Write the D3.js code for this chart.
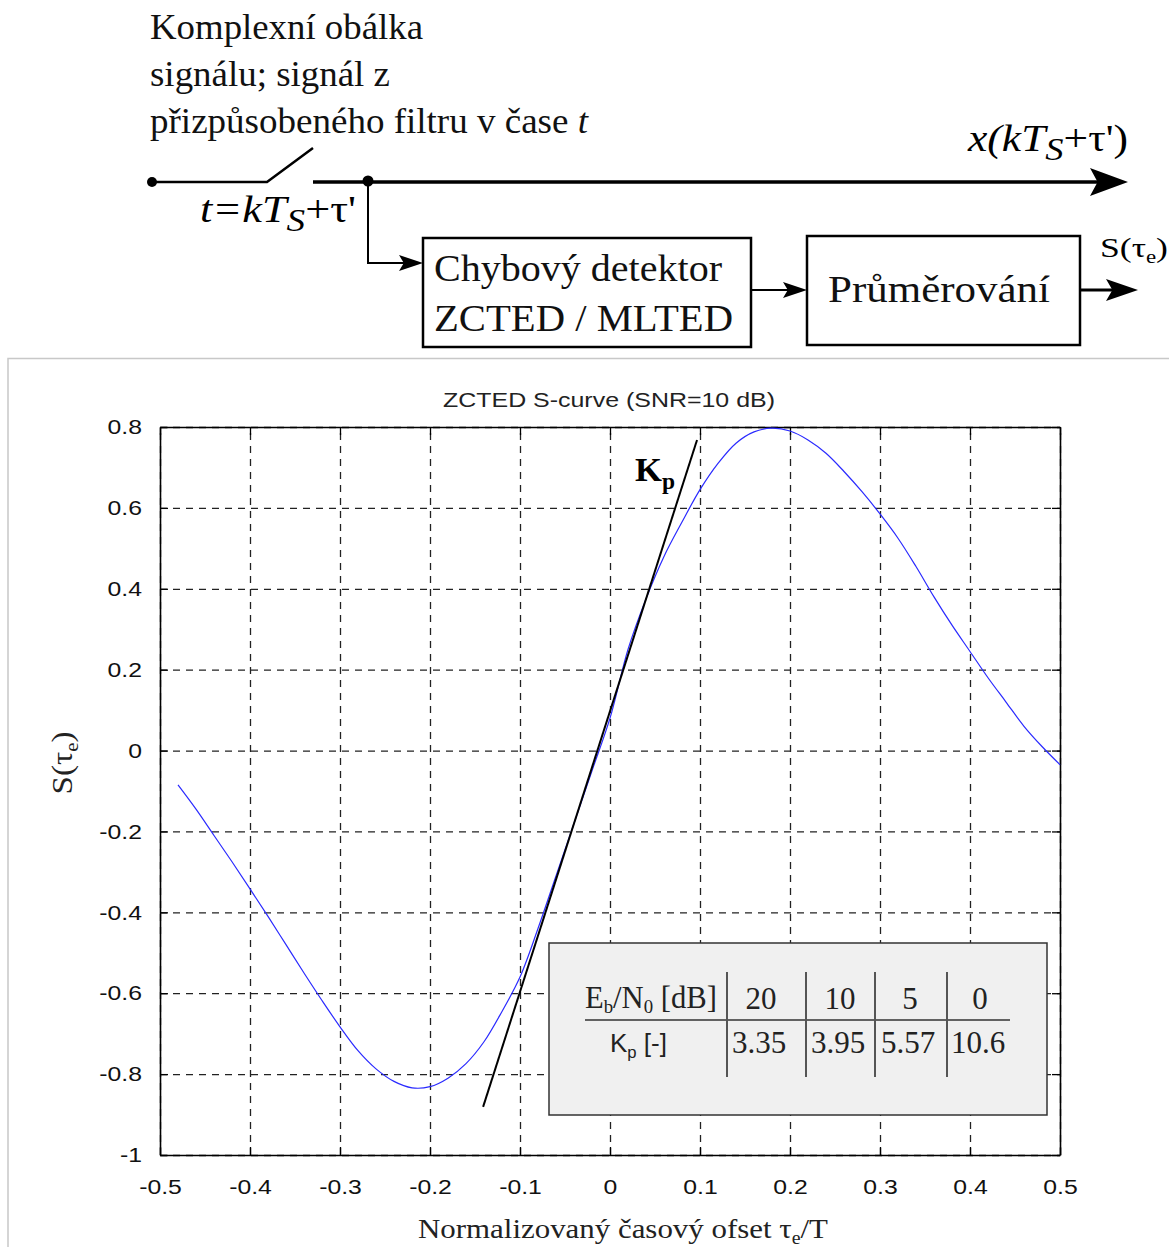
<!DOCTYPE html>
<html>
<head>
<meta charset="utf-8">
<script src="https://cdn.jsdelivr.net/npm/d3@7"></script>
<style>
  body { margin: 0; background: #fff; }
  svg { display: block; }
</style>
</head>
<body>
<div id="chart"></div>
<script>
// S-curve samples (tau_e/T, S)
const tau = [-0.48, -0.46, -0.44, -0.42, -0.40, -0.38, -0.36, -0.34, -0.32, -0.30, -0.28, -0.26,
  -0.24, -0.22, -0.20, -0.18, -0.16, -0.14, -0.12, -0.10, -0.08, -0.06, -0.04, -0.02, 0,
  0.02, 0.04, 0.06, 0.08, 0.10, 0.12, 0.14, 0.16, 0.18, 0.20, 0.22, 0.24, 0.26, 0.28, 0.30,
  0.32, 0.34, 0.36, 0.38, 0.40, 0.42, 0.44, 0.46, 0.48, 0.50];
const sVal = [-0.085, -0.145, -0.21, -0.275, -0.342, -0.41, -0.48, -0.55, -0.618, -0.683, -0.742, -0.787,
  -0.818, -0.834, -0.831, -0.81, -0.774, -0.72, -0.645, -0.56, -0.44, -0.31, -0.18, -0.05, 0.08,
  0.25, 0.375, 0.48, 0.565, 0.645, 0.71, 0.76, 0.788, 0.797, 0.79, 0.768, 0.735, 0.69, 0.64, 0.585,
  0.525, 0.455, 0.38, 0.31, 0.245, 0.18, 0.12, 0.06, 0.01, -0.035];

// tangent (Kp) line end points
const kpLineX = [-0.141, 0.0967];
const kpLineY = [-0.881, 0.768];

const xTicks = [-0.5, -0.4, -0.3, -0.2, -0.1, 0, 0.1, 0.2, 0.3, 0.4, 0.5];
const yTicks = [-1, -0.8, -0.6, -0.4, -0.2, 0, 0.2, 0.4, 0.6, 0.8];

// table in the inset
const ebn0 = ["20", "10", "5", "0"];
const kpVals = ["3.35", "3.95", "5.57", "10.6"];

const W = 1169, H = 1247;
const svg = d3.select("#chart").append("svg")
  .attr("width", W).attr("height", H);

const serif = "'Liberation Serif', 'Times New Roman', serif";
const sans = "'Liberation Sans', Arial, sans-serif";

// squeeze / stretch a text to the width it has in the picture
function fit(sel, w) {
  return sel.attr("textLength", w).attr("lengthAdjust", "spacingAndGlyphs");
}

// ---------- block diagram ----------
const diag = svg.append("g");

function arrowHead(g, tipX, tipY, len, half) {
  g.append("path")
    .attr("d", `M${tipX},${tipY} L${tipX - len},${tipY - half} L${tipX - len * 0.8},${tipY} L${tipX - len},${tipY + half} Z`)
    .attr("fill", "#000");
}

// caption text
fit(diag.append("text").attr("x", 150).attr("y", 39)
  .style("font-family", serif).style("font-size", "35px").attr("fill", "#111")
  .text("Komplexní obálka"), 273);
fit(diag.append("text").attr("x", 150).attr("y", 86)
  .style("font-family", serif).style("font-size", "35px").attr("fill", "#111")
  .text("signálu; signál z"), 240);
const cap3 = diag.append("text")
  .attr("x", 150).attr("y", 133)
  .style("font-family", serif).style("font-size", "35px").attr("fill", "#111");
cap3.append("tspan").text("přizpůsobeného filtru v čase ");
cap3.append("tspan").style("font-style", "italic").text("t");
fit(cap3, 438);

// switch
diag.append("circle").attr("cx", 152).attr("cy", 182).attr("r", 5).attr("fill", "#000");
diag.append("path").attr("d", "M152,182 L267,182 L313,148")
  .attr("fill", "none").attr("stroke", "#000").attr("stroke-width", 2.5);

// main line with arrow
diag.append("line").attr("x1", 313).attr("y1", 182).attr("x2", 1100).attr("y2", 182)
  .attr("stroke", "#000").attr("stroke-width", 3.5);
arrowHead(diag, 1128, 182, 38, 14);
diag.append("circle").attr("cx", 368).attr("cy", 181).attr("r", 5.5).attr("fill", "#000");

// branch down to detector
diag.append("path").attr("d", "M368,182 L368,263 L405,263")
  .attr("fill", "none").attr("stroke", "#000").attr("stroke-width", 2);
arrowHead(diag, 423, 263, 24, 8);

// t = kTs + tau'
const tl = diag.append("text").attr("x", 200).attr("y", 222)
  .style("font-family", serif).style("font-size", "37px").style("font-style", "italic");
tl.append("tspan").text("t=kT");
tl.append("tspan").attr("dy", 9).style("font-size", "31px").text("S");
tl.append("tspan").attr("dy", -9).style("font-style", "normal").text("+τ'");
fit(tl, 156);

// x(kTs + tau')
const xl = diag.append("text").attr("x", 968).attr("y", 151)
  .style("font-family", serif).style("font-size", "37px").style("font-style", "italic");
xl.append("tspan").text("x(kT");
xl.append("tspan").attr("dy", 9).style("font-size", "31px").text("S");
xl.append("tspan").attr("dy", -9).style("font-style", "normal").text("+τ')");
fit(xl, 160);

// boxes
diag.append("rect").attr("x", 423).attr("y", 238).attr("width", 328).attr("height", 109)
  .attr("fill", "none").attr("stroke", "#000").attr("stroke-width", 2.5);
diag.append("rect").attr("x", 807).attr("y", 236).attr("width", 273).attr("height", 109)
  .attr("fill", "none").attr("stroke", "#000").attr("stroke-width", 2.5);
fit(diag.append("text").attr("x", 434).attr("y", 281)
  .style("font-family", serif).style("font-size", "38px").attr("fill", "#111").text("Chybový detektor"), 288);
fit(diag.append("text").attr("x", 434).attr("y", 331)
  .style("font-family", serif).style("font-size", "38px").attr("fill", "#111").text("ZCTED / MLTED"), 299);
fit(diag.append("text").attr("x", 828).attr("y", 302)
  .style("font-family", serif).style("font-size", "38px").attr("fill", "#111").text("Průměrování"), 222);

// box-to-box arrow and output arrow
diag.append("line").attr("x1", 751).attr("y1", 290).attr("x2", 790).attr("y2", 290)
  .attr("stroke", "#000").attr("stroke-width", 2);
arrowHead(diag, 807, 290, 24, 8);
diag.append("line").attr("x1", 1080).attr("y1", 290).attr("x2", 1115).attr("y2", 290)
  .attr("stroke", "#000").attr("stroke-width", 3);
arrowHead(diag, 1138, 290, 32, 11);

const so = diag.append("text").attr("x", 1100).attr("y", 257)
  .style("font-family", serif).style("font-size", "28px");
so.append("tspan").text("S(τ");
so.append("tspan").attr("dy", 6).style("font-size", "18px").text("e");
so.append("tspan").attr("dy", -6).text(")");
fit(so, 68);

// ---------- plot panel ----------
svg.append("path").attr("d", `M8,${H} L8,358.5 L${W},358.5`)
  .attr("fill", "none").attr("stroke", "#c8c8c8").attr("stroke-width", 1.5);

const pLeft = 160, pRight = 1060, pTop = 427, pBottom = 1155;
const x = d3.scaleLinear().domain([-0.5, 0.5]).range([pLeft, pRight]);
const y = d3.scaleLinear().domain([-1, 0.8]).range([pBottom, pTop]);

const fmt = d => String(+d.toFixed(1));

// grid
const grid = svg.append("g");
grid.append("g").attr("transform", `translate(0,${pBottom})`)
  .call(d3.axisBottom(x).tickValues(xTicks).tickSize(-(pBottom - pTop)).tickFormat(""))
  .call(g => g.select(".domain").remove());
grid.append("g").attr("transform", `translate(${pLeft},0)`)
  .call(d3.axisLeft(y).tickValues(yTicks).tickSize(-(pRight - pLeft)).tickFormat(""))
  .call(g => g.select(".domain").remove());
grid.selectAll("line").attr("stroke", "#222").attr("stroke-width", 1.3).attr("stroke-dasharray", "7,6");

// axes with inward ticks on all sides
const axB = svg.append("g").attr("transform", `translate(0,${pBottom})`)
  .call(d3.axisBottom(x).tickValues(xTicks).tickSizeInner(-8).tickSizeOuter(0).tickPadding(24).tickFormat(fmt));
const axT = svg.append("g").attr("transform", `translate(0,${pTop})`)
  .call(d3.axisTop(x).tickValues(xTicks).tickSizeInner(-8).tickSizeOuter(0).tickFormat(""));
const axL = svg.append("g").attr("transform", `translate(${pLeft},0)`)
  .call(d3.axisLeft(y).tickValues(yTicks).tickSizeInner(-8).tickSizeOuter(0).tickPadding(18).tickFormat(fmt));
const axR = svg.append("g").attr("transform", `translate(${pRight},0)`)
  .call(d3.axisRight(y).tickValues(yTicks).tickSizeInner(-8).tickSizeOuter(0).tickFormat(""));
[axB, axT, axL, axR].forEach(function(a) {
  a.select(".domain").attr("stroke", "#000").attr("stroke-width", 1.6);
  a.selectAll(".tick line").attr("stroke", "#000").attr("stroke-width", 1.3);
  a.selectAll("text").style("font-family", sans).style("font-size", "21px").attr("fill", "#111");
});
// tick labels in the picture are a bit wider than Arial
axB.selectAll(".tick text").attr("transform", "scale(1.18,1)");
axL.selectAll(".tick text").attr("transform", "translate(-18,0) scale(1.18,1) translate(18,0)");

// curve
svg.append("path")
  .datum(tau.map((t, i) => [t, sVal[i]]))
  .attr("d", d3.line().x(d => x(d[0])).y(d => y(d[1])).curve(d3.curveCatmullRom))
  .attr("fill", "none").attr("stroke", "#2a2aff").attr("stroke-width", 1.2);

// Kp tangent
svg.append("line")
  .attr("x1", x(kpLineX[0])).attr("y1", y(kpLineY[0]))
  .attr("x2", x(kpLineX[1])).attr("y2", y(kpLineY[1]))
  .attr("stroke", "#000").attr("stroke-width", 2);
const kp = svg.append("text").attr("x", 635).attr("y", 481)
  .style("font-family", serif).style("font-size", "34px").style("font-weight", "bold");
kp.append("tspan").text("K");
kp.append("tspan").attr("dy", 8).style("font-size", "23px").text("p");
fit(kp, 40);

// title
fit(svg.append("text").attr("x", 609).attr("y", 407).attr("text-anchor", "middle")
  .style("font-family", sans).style("font-size", "21px").attr("fill", "#222")
  .text("ZCTED S-curve (SNR=10 dB)"), 332);

// axis labels
const xlab = svg.append("text").attr("x", 623).attr("y", 1238).attr("text-anchor", "middle")
  .style("font-family", serif).style("font-size", "28px").attr("fill", "#222");
xlab.append("tspan").text("Normalizovaný časový ofset τ");
xlab.append("tspan").attr("dy", 6).style("font-size", "18px").text("e");
xlab.append("tspan").attr("dy", -6).text("/T");
fit(xlab, 410);

const ylab = svg.append("text").attr("transform", "translate(72,763) rotate(-90)")
  .attr("text-anchor", "middle")
  .style("font-family", serif).style("font-size", "30px").attr("fill", "#222");
ylab.append("tspan").text("S(τ");
ylab.append("tspan").attr("dy", 6).style("font-size", "19px").text("e");
ylab.append("tspan").attr("dy", -6).text(")");
fit(ylab, 63);

// ---------- inset table ----------
const tb = svg.append("g");
tb.append("rect").attr("x", 549).attr("y", 943).attr("width", 498).attr("height", 172)
  .attr("fill", "#f0f0f0").attr("stroke", "#333").attr("stroke-width", 1.5);
tb.append("line").attr("x1", 585).attr("y1", 1020).attr("x2", 1010).attr("y2", 1020)
  .attr("stroke", "#333").attr("stroke-width", 1.5);
const colX = [761, 840, 910, 980];
const sepX = [727, 806, 875, 947];
sepX.forEach(function(sx) {
  tb.append("line").attr("x1", sx).attr("y1", 972).attr("x2", sx).attr("y2", 1077)
    .attr("stroke", "#555").attr("stroke-width", 2);
});
const hdr = tb.append("text").attr("x", 585).attr("y", 1008)
  .style("font-family", serif).style("font-size", "31px").attr("fill", "#222");
hdr.append("tspan").text("E");
hdr.append("tspan").attr("dy", 5).style("font-size", "19px").text("b");
hdr.append("tspan").attr("dy", -5).text("/N");
hdr.append("tspan").attr("dy", 5).style("font-size", "19px").text("0");
hdr.append("tspan").attr("dy", -5).text(" [dB]");
fit(hdr, 132);
const kpl = tb.append("text").attr("x", 610).attr("y", 1052)
  .style("font-family", sans).style("font-size", "25px").attr("fill", "#222");
kpl.append("tspan").text("K");
kpl.append("tspan").attr("dy", 6).style("font-size", "16px").text("p");
kpl.append("tspan").attr("dy", -6).text(" [-]");
fit(kpl, 57);
ebn0.forEach(function(v, i) {
  tb.append("text").attr("x", colX[i]).attr("y", 1009).attr("text-anchor", "middle")
    .style("font-family", serif).style("font-size", "31px").attr("fill", "#222").text(v);
});
kpVals.forEach(function(v, i) {
  tb.append("text").attr("x", colX[i] - 2).attr("y", 1053).attr("text-anchor", "middle")
    .style("font-family", serif).style("font-size", "31px").attr("fill", "#222").text(v);
});
</script>
</body>
</html>
